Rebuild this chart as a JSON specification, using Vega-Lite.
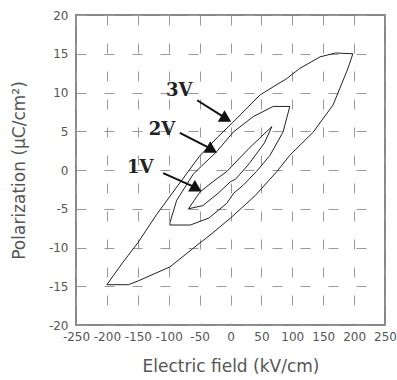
{
  "$schema": "https://vega.github.io/schema/vega-lite/v6.json",
  "width": 309,
  "height": 310,
  "autosize": {"type": "none"},
  "padding": {"left": 76, "top": 15, "right": 12, "bottom": 55},
  "background": "white",
  "config": {
    "view": {"stroke": "#888", "strokeWidth": 2},
    "axis": {
      "labelFont": "DejaVu Sans", "labelFontSize": 12, "labelColor": "#555",
      "titleFont": "DejaVu Sans", "titleFontSize": 17, "titleFontWeight": "normal", "titleColor": "#555",
      "grid": true, "gridColor": "#999", "gridDash": [10, 18], "gridWidth": 1,
      "tickSize": 0, "domain": false, "labelFlush": false
    }
  },
  "data": {"values": [
      {"k": "loop", "s": "3V", "i": 1, "x": -200, "y": -14.8},
      {"k": "loop", "s": "3V", "i": 2, "x": -175, "y": -12},
      {"k": "loop", "s": "3V", "i": 3, "x": -150, "y": -9.4},
      {"k": "loop", "s": "3V", "i": 4, "x": -120, "y": -5.8},
      {"k": "loop", "s": "3V", "i": 5, "x": -87, "y": -2.2},
      {"k": "loop", "s": "3V", "i": 6, "x": -50, "y": 1.8},
      {"k": "loop", "s": "3V", "i": 7, "x": -20, "y": 4.3},
      {"k": "loop", "s": "3V", "i": 8, "x": 4.5, "y": 6.2},
      {"k": "loop", "s": "3V", "i": 9, "x": 48, "y": 9.7},
      {"k": "loop", "s": "3V", "i": 10, "x": 91, "y": 11.8},
      {"k": "loop", "s": "3V", "i": 11, "x": 112, "y": 13.1},
      {"k": "loop", "s": "3V", "i": 12, "x": 145, "y": 14.6},
      {"k": "loop", "s": "3V", "i": 13, "x": 170, "y": 15.1},
      {"k": "loop", "s": "3V", "i": 14, "x": 198, "y": 15},
      {"k": "loop", "s": "3V", "i": 15, "x": 193, "y": 13.8},
      {"k": "loop", "s": "3V", "i": 16, "x": 188, "y": 12.7},
      {"k": "loop", "s": "3V", "i": 17, "x": 166, "y": 8.4},
      {"k": "loop", "s": "3V", "i": 18, "x": 134, "y": 4.9},
      {"k": "loop", "s": "3V", "i": 19, "x": 96, "y": 1.9},
      {"k": "loop", "s": "3V", "i": 20, "x": 75, "y": -0.2},
      {"k": "loop", "s": "3V", "i": 21, "x": 40, "y": -3.3},
      {"k": "loop", "s": "3V", "i": 22, "x": 0, "y": -6.2},
      {"k": "loop", "s": "3V", "i": 23, "x": -30, "y": -8.2},
      {"k": "loop", "s": "3V", "i": 24, "x": -54, "y": -9.7},
      {"k": "loop", "s": "3V", "i": 25, "x": -98, "y": -12.5},
      {"k": "loop", "s": "3V", "i": 26, "x": -149, "y": -14.3},
      {"k": "loop", "s": "3V", "i": 27, "x": -165, "y": -14.8},
      {"k": "loop", "s": "3V", "i": 28, "x": -200, "y": -14.8},
      {"k": "loop", "s": "2V", "i": 1, "x": -98, "y": -6.8},
      {"k": "loop", "s": "2V", "i": 2, "x": -87, "y": -3.9},
      {"k": "loop", "s": "2V", "i": 3, "x": -60, "y": -0.5},
      {"k": "loop", "s": "2V", "i": 4, "x": -22, "y": 2.4},
      {"k": "loop", "s": "2V", "i": 5, "x": 4.5, "y": 4.9},
      {"k": "loop", "s": "2V", "i": 6, "x": 37, "y": 6.9},
      {"k": "loop", "s": "2V", "i": 7, "x": 69, "y": 8.2},
      {"k": "loop", "s": "2V", "i": 8, "x": 96, "y": 8.2},
      {"k": "loop", "s": "2V", "i": 9, "x": 85, "y": 4.9},
      {"k": "loop", "s": "2V", "i": 10, "x": 64, "y": 1.9},
      {"k": "loop", "s": "2V", "i": 11, "x": 42, "y": -0.2},
      {"k": "loop", "s": "2V", "i": 12, "x": 20, "y": -2},
      {"k": "loop", "s": "2V", "i": 13, "x": 5, "y": -3},
      {"k": "loop", "s": "2V", "i": 14, "x": -6, "y": -4.3},
      {"k": "loop", "s": "2V", "i": 15, "x": -35, "y": -6.2},
      {"k": "loop", "s": "2V", "i": 16, "x": -65, "y": -7.1},
      {"k": "loop", "s": "2V", "i": 17, "x": -98, "y": -7.1},
      {"k": "loop", "s": "2V", "i": 18, "x": -98, "y": -6.8},
      {"k": "loop", "s": "1V", "i": 1, "x": -68, "y": -5},
      {"k": "loop", "s": "1V", "i": 2, "x": -49, "y": -2.8},
      {"k": "loop", "s": "1V", "i": 3, "x": -25, "y": -1.3},
      {"k": "loop", "s": "1V", "i": 4, "x": -6, "y": -0.2},
      {"k": "loop", "s": "1V", "i": 5, "x": 30, "y": 2.8},
      {"k": "loop", "s": "1V", "i": 6, "x": 67, "y": 5.6},
      {"k": "loop", "s": "1V", "i": 7, "x": 55, "y": 3.5},
      {"k": "loop", "s": "1V", "i": 8, "x": 30, "y": 0.8},
      {"k": "loop", "s": "1V", "i": 9, "x": 8, "y": -1.2},
      {"k": "loop", "s": "1V", "i": 10, "x": 0, "y": -1.5},
      {"k": "loop", "s": "1V", "i": 11, "x": -20, "y": -3},
      {"k": "loop", "s": "1V", "i": 12, "x": -45, "y": -4.6},
      {"k": "loop", "s": "1V", "i": 13, "x": -68, "y": -5},
      {"k": "arrow", "s": "3V", "x": -54, "y": 9, "x2": -10, "y2": 6.8},
      {"k": "arrow", "s": "2V", "x": -82, "y": 4.8, "x2": -33, "y2": 2.8},
      {"k": "arrow", "s": "1V", "x": -109, "y": -0.4, "x2": -58, "y2": -2.2},
      {"k": "head", "s": "3V", "x": -7, "y": 6.6},
      {"k": "head", "s": "2V", "x": -30, "y": 2.6},
      {"k": "head", "s": "1V", "x": -55, "y": -2.4},
      {"k": "label", "s": "3V", "x": -83, "y": 10.2},
      {"k": "label", "s": "2V", "x": -111, "y": 5.2},
      {"k": "label", "s": "1V", "x": -146, "y": 0.3}
  ]},
  "encoding": {
    "x": {"field": "x", "type": "quantitative",
          "scale": {"domain": [-250, 250], "nice": false, "zero": false},
          "axis": {"values": [-250, -200, -150, -100, -50, 0, 50, 100, 150, 200, 250], "labelExpr": "'' + datum.value", "labelOverlap": false, "title": "Electric field (kV/cm)", "labelPadding": 6, "titlePadding": 16}},
    "y": {"field": "y", "type": "quantitative",
          "scale": {"domain": [-20, 20], "nice": false, "zero": false},
          "axis": {"values": [-20, -15, -10, -5, 0, 5, 10, 15, 20], "labelExpr": "'' + datum.value", "labelOverlap": false, "title": "Polarization (μC/cm²)", "labelPadding": 8, "titlePadding": 20}}
  },
  "layer": [
    {
      "transform": [{"filter": "datum.k == 'loop'"}],
      "mark": {"type": "line", "color": "#222", "strokeWidth": 1, "interpolate": "linear"},
      "encoding": {
        "detail": {"field": "s"},
        "order": {"field": "i", "type": "quantitative"}
      }
    },
    {
      "transform": [{"filter": "datum.k == 'arrow'"}],
      "mark": {"type": "rule", "color": "#111", "strokeWidth": 2},
      "encoding": {
        "x2": {"field": "x2"},
        "y2": {"field": "y2"}
      }
    },
    {
      "transform": [{"filter": "datum.k == 'head'"}],
      "mark": {"type": "point", "shape": "triangle-right", "filled": true, "color": "#111", "opacity": 1, "size": 180, "angle": 30}
    },
    {
      "transform": [{"filter": "datum.k == 'label'"}],
      "mark": {"type": "text", "font": "DejaVu Serif", "fontWeight": "bold", "fontSize": 18, "color": "#222", "align": "center", "baseline": "middle"},
      "encoding": {
        "text": {"field": "s"}
      }
    }
  ]
}
